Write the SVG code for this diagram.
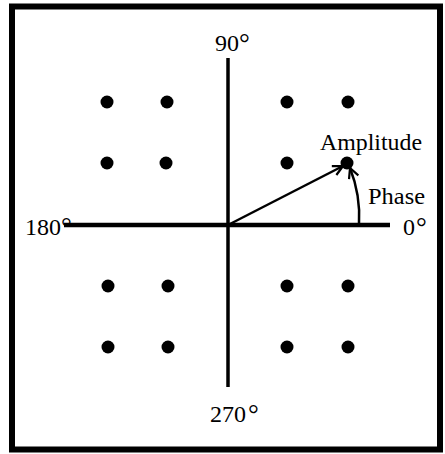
<svg xmlns="http://www.w3.org/2000/svg" width="445" height="454" viewBox="0 0 445 454">
<style>
.lbl{font-family:"Liberation Serif","Times New Roman",serif;font-size:24px;fill:#000}
.word{font-size:22.5px}
.deg{font-size:27px}
.dot{fill:#000}
.axis{stroke:#000;stroke-linecap:butt;fill:none}
.conn{stroke:#000;stroke-width:2.5;fill:none}
</style>
<defs>
<marker id="vhead" viewBox="0 0 12 12" refX="11" refY="6" markerWidth="12" markerHeight="12" markerUnits="userSpaceOnUse" orient="auto">
<path d="M1,1 L11,6 L1,11" fill="none" stroke="#000" stroke-width="2.2"/>
</marker>
</defs>
<rect x="0" y="0" width="445" height="454" fill="#fff"/>
<rect id="frame" x="12" y="6.5" width="428" height="443" fill="none" stroke="#000" stroke-width="6"/>
<g id="axes">
<line class="axis" x1="228" y1="58" x2="228" y2="387" stroke-width="3.5"/>
<line class="axis" x1="64" y1="225" x2="390" y2="225" stroke-width="4.5"/>
</g>
<g id="connectors">
<line id="amplitude-vector" class="conn" x1="228" y1="225" x2="343" y2="166" marker-end="url(#vhead)"/>
<path id="phase-arc" class="conn" d="M359,224 A132,132 0 0 0 350,168" marker-end="url(#vhead)"/>
</g>
<g id="points">
<g id="p11"><circle class="dot" cx="107" cy="102" r="6.5"/></g>
<g id="p12"><circle class="dot" cx="167" cy="102" r="6.5"/></g>
<g id="p13"><circle class="dot" cx="287" cy="102" r="6.5"/></g>
<g id="p14"><circle class="dot" cx="348" cy="102" r="6.5"/></g>
<g id="p21"><circle class="dot" cx="107" cy="163" r="6.5"/></g>
<g id="p22"><circle class="dot" cx="166" cy="163" r="6.5"/></g>
<g id="p23"><circle class="dot" cx="287" cy="163" r="6.5"/></g>
<g id="p24"><circle class="dot" cx="347" cy="163" r="6.5"/></g>
<g id="p31"><circle class="dot" cx="108" cy="286" r="6.5"/></g>
<g id="p32"><circle class="dot" cx="168" cy="286" r="6.5"/></g>
<g id="p33"><circle class="dot" cx="287" cy="286" r="6.5"/></g>
<g id="p34"><circle class="dot" cx="348" cy="286" r="6.5"/></g>
<g id="p41"><circle class="dot" cx="108" cy="347" r="6.5"/></g>
<g id="p42"><circle class="dot" cx="168" cy="347" r="6.5"/></g>
<g id="p43"><circle class="dot" cx="287" cy="347" r="6.5"/></g>
<g id="p44"><circle class="dot" cx="348" cy="347" r="6.5"/></g>
</g>
<g id="labels">
<text id="l90" class="lbl" x="215" y="51">90<tspan class="deg" dx="0" dy="1">°</tspan></text>
<text id="l180" class="lbl" x="25" y="235">180<tspan class="deg" dx="0" dy="1">°</tspan></text>
<text id="l0" class="lbl" x="403" y="235">0<tspan class="deg" dx="1" dy="1">°</tspan></text>
<text id="l270" class="lbl" x="210" y="422">270<tspan class="deg" dx="2" dy="1">°</tspan></text>
<text id="lamp" class="lbl word" x="320" y="150" textLength="102" lengthAdjust="spacingAndGlyphs">Amplitude</text>
<text id="lphase" class="lbl word" x="368" y="204" textLength="57" lengthAdjust="spacingAndGlyphs">Phase</text>
</g>
</svg>
